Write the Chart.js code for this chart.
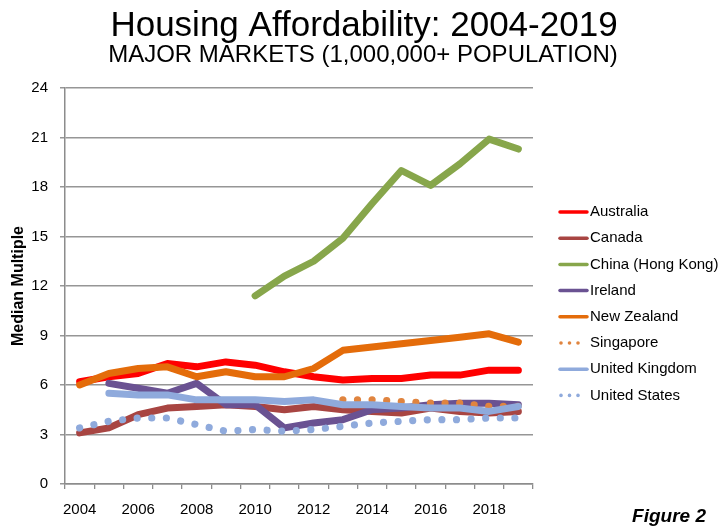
<!DOCTYPE html>
<html>
<head>
<meta charset="utf-8">
<script src="https://cdn.jsdelivr.net/npm/chart.js@4.4.0/dist/chart.umd.min.js"></script>
<style>
  body { margin: 0; background: #fff; }
  canvas { display: block; }
</style>
</head>
<body>
<canvas id="chart" width="722" height="529"></canvas>
<script>
// Values (median multiple)
const years = ['2004','2005','2006','2007','2008','2009','2010','2011','2012','2013','2014','2015','2016','2017','2018','2019'];
const australia = [6.2, 6.5, 6.7, 7.3, 7.1, 7.4, 7.2, 6.8, 6.5, 6.3, 6.4, 6.4, 6.6, 6.6, 6.9, 6.9];
const canada = [3.1, 3.4, 4.2, 4.6, 4.7, 4.8, 4.7, 4.5, 4.7, 4.5, 4.4, 4.3, 4.6, 4.4, 4.3, 4.4];
const china = [null, null, null, null, null, null, 11.4, 12.6, 13.5, 14.9, 17.0, 19.0, 18.1, 19.4, 20.9, 20.3];
const ireland = [null, 6.1, 5.8, 5.5, 6.1, 4.8, 4.8, 3.4, 3.7, 3.9, 4.5, 4.6, 4.8, 4.9, 4.9, 4.8];
const newZealand = [6.0, 6.7, 7.0, 7.1, 6.5, 6.8, 6.5, 6.5, 7.0, 8.1, 8.3, 8.5, 8.7, 8.9, 9.1, 8.6];
const singapore = [null, null, null, null, null, null, null, null, null, 5.1, 5.1, 5.0, 4.9, 4.9, 4.7, 4.7];
const unitedKingdom = [null, 5.5, 5.4, 5.4, 5.1, 5.1, 5.1, 5.0, 5.1, 4.8, 4.8, 4.7, 4.6, 4.6, 4.4, 4.7];
const unitedStates = [3.4, 3.8, 4.0, 4.0, 3.6, 3.2, 3.3, 3.2, 3.3, 3.5, 3.7, 3.8, 3.9, 3.9, 4.0, 4.0];

const yTicks = [0, 3, 6, 9, 12, 15, 18, 21, 24];

function solid(label, data, color, order) {
    return { label, data, borderColor: color, backgroundColor: color, borderWidth: 7,
             borderJoinStyle: 'round', borderCapStyle: 'round', pointRadius: 0, order };
}
function dotted(label, data, color, order) {
    return { label, data, borderColor: color, backgroundColor: color, borderWidth: 7.2,
             borderDash: [0.01, 14.6], borderCapStyle: 'round', pointRadius: 0, order, dotted: true };
}

const datasets = [
    solid('Australia', australia, '#FF0000', 8),
    solid('Canada', canada, '#A84542', 7),
    solid('China (Hong Kong)', china, '#87A64B', 6),
    solid('Ireland', ireland, '#6A5292', 5),
    solid('New Zealand', newZealand, '#E46C0A', 4),
    dotted('Singapore', singapore, '#E0843F', 3),
    solid('United Kingdom', unitedKingdom, '#8FAADC', 2),
    dotted('United States', unitedStates, '#8FAADC', 1)
];

// titles, legend and figure label drawn on the canvas
const decorations = {
    id: 'decorations',
    afterDraw(chart) {
        const c = chart.ctx;
        c.save();
        c.fillStyle = '#000';
        c.textAlign = 'center';
        c.textBaseline = 'alphabetic';
        c.font = '35px "Liberation Sans", Arial, sans-serif';
        c.fillText('Housing Affordability: 2004-2019', 364, 36);
        c.font = '24px "Liberation Sans", Arial, sans-serif';
        c.fillText('MAJOR MARKETS (1,000,000+ POPULATION)', 363, 62);

        c.textAlign = 'right';
        c.font = 'italic bold 19px "Liberation Sans", Arial, sans-serif';
        c.fillText('Figure 2', 706, 522);

        c.textAlign = 'left';
        c.textBaseline = 'middle';
        c.font = '15px "Liberation Sans", Arial, sans-serif';
        chart.data.datasets.forEach((ds, i) => {
            const y = 212 + i * 26.2;
            c.strokeStyle = ds.borderColor;
            c.fillStyle = ds.borderColor;
            if (ds.dotted) {
                [561, 569.5, 578].forEach(x => {
                    c.beginPath();
                    c.arc(x, y, 1.8, 0, Math.PI * 2);
                    c.fill();
                });
            } else {
                c.lineWidth = 3.5;
                c.lineCap = 'round';
                c.beginPath();
                c.moveTo(560, y);
                c.lineTo(587, y);
                c.stroke();
            }
            c.fillStyle = '#000';
            c.fillText(ds.label, 590, y);
        });
        c.restore();
    }
};

new Chart(document.getElementById('chart'), {
    type: 'line',
    data: { labels: years, datasets },
    options: {
        responsive: false,
        animation: false,
        layout: { padding: { left: 0, right: 189, top: 88, bottom: 0 } },
        plugins: { legend: { display: false }, tooltip: { enabled: false } },
        elements: { line: { tension: 0 } },
        scales: {
            x: {
                offset: true,
                grid: { offset: true, drawOnChartArea: false, drawTicks: true, tickLength: 5, color: '#8c8c8c', lineWidth: 1.3 },
                border: { color: '#8c8c8c', width: 1.5 },
                ticks: {
                    autoSkip: false, maxRotation: 0, padding: 12, color: '#000',
                    font: { family: '"Liberation Sans", Arial, sans-serif', size: 15 },
                    callback: (v, i) => (i % 2 === 0 ? years[i] : '')
                },
                afterFit: s => { s.height = 45; }
            },
            y: {
                min: 0, max: 24,
                afterBuildTicks: s => { s.ticks = yTicks.map(v => ({ value: v })); },
                grid: { color: '#969696', lineWidth: 1.5, tickLength: 5 },
                border: { color: '#8c8c8c', width: 1.5 },
                ticks: { padding: 12, color: '#000', font: { family: '"Liberation Sans", Arial, sans-serif', size: 15 } },
                title: {
                    display: true, text: 'Median Multiple', color: '#000',
                    font: { family: '"Liberation Sans", Arial, sans-serif', size: 16, weight: 'bold' },
                    padding: { top: 9, bottom: 0 }
                },
                afterFit: s => { s.width = 65; }
            }
        }
    },
    plugins: [decorations]
});
</script>
</body>
</html>
